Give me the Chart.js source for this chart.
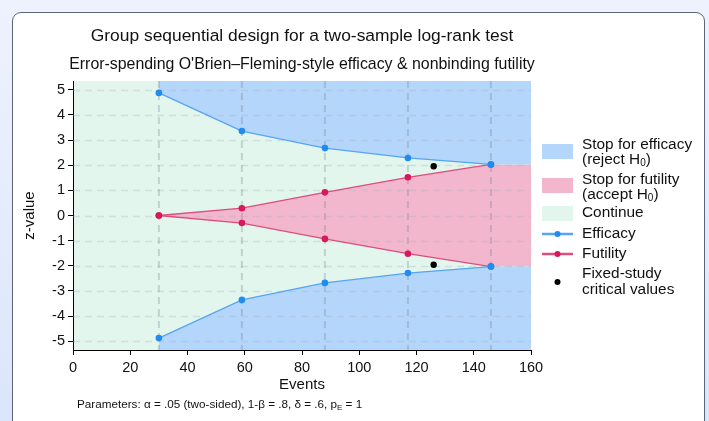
<!DOCTYPE html>
<html>
<head>
<meta charset="utf-8">
<script src="https://cdn.jsdelivr.net/npm/chart.js@4.4.0/dist/chart.umd.min.js"></script>
<style>
  html, body { margin: 0; padding: 0; }
  body {
    width: 709px; height: 421px; overflow: hidden; position: relative;
    background: linear-gradient(180deg, #eef2fd 0%, #dbe5fb 100%);
    font-family: "Liberation Sans", Arial, sans-serif;
  }
  #card {
    position: absolute; left: 12px; top: 12px; width: 691px; height: 440px;
    background: #fff; border: 1.5px solid #5b6478; border-radius: 9px;
  }
  #chart { position: absolute; left: 0; top: 0; }
</style>
</head>
<body>
<div id="card"></div>
<canvas id="chart" width="709" height="421"></canvas>
<script>
document.addEventListener("DOMContentLoaded", function(){
  // analysis looks (events) and boundaries
  const events = [30, 59, 88, 117, 146];
  const efficacyUpper = [4.877, 3.357, 2.680, 2.290, 2.031];
  const efficacyLower = [-4.877, -3.357, -2.680, -2.290, -2.031];
  const futilityUpper = [0.00, 0.29, 0.92, 1.52, 2.031];
  const futilityLower = [0.00, -0.30, -0.93, -1.52, -2.031];
  const fixedEvents = [126, 126];
  const fixedCritical = [1.96, -1.96];
  const xMax = 160;
  const xTicks = [0, 20, 40, 60, 80, 100, 120, 140, 160];
  const yTicks = [-5, -4, -3, -2, -1, 0, 1, 2, 3, 4, 5];

  const blueFill = "#b5d6fb";
  const pinkFill = "#f2b7cc";
  const greenFill = "#e3f6ee";
  const effLine = "#55a4f7";
  const effPoint = "#1f8bf3";
  const futLine = "#df4c7d";
  const futPoint = "#d8185a";
  const font = '"Liberation Sans", Arial, sans-serif';

  function pts(xs, ys) {
    return xs.map((x, i) => ({ x: x, y: ys[i] }));
  }
  // region edges run on to the right end of the axis
  function extend(xs, ys) {
    const p = pts(xs, ys);
    p.push({ x: xMax, y: ys[ys.length - 1] });
    return p;
  }

  const regionStyle = { borderWidth: 0, pointRadius: 0, pointHoverRadius: 0, showLine: true };

  const datasets = [
    Object.assign({ label: "effUpRegion", data: extend(events, efficacyUpper), fill: "end", backgroundColor: blueFill }, regionStyle),
    Object.assign({ label: "effLowRegion", data: extend(events, efficacyLower), fill: "start", backgroundColor: blueFill }, regionStyle),
    Object.assign({ label: "futUpRegion", data: extend(events, futilityUpper), fill: "+1", backgroundColor: pinkFill }, regionStyle),
    Object.assign({ label: "futLowRegion", data: extend(events, futilityLower), fill: false }, regionStyle),
    { label: "Efficacy", data: pts(events, efficacyUpper), borderColor: effLine, borderWidth: 1.3,
      pointBackgroundColor: effPoint, pointBorderWidth: 0, pointRadius: 3.3, showLine: true, fill: false },
    { label: "Efficacy low", data: pts(events, efficacyLower), borderColor: effLine, borderWidth: 1.3,
      pointBackgroundColor: effPoint, pointBorderWidth: 0, pointRadius: 3.3, showLine: true, fill: false },
    { label: "Futility", data: pts(events, futilityUpper), borderColor: futLine, borderWidth: 1.3,
      pointBackgroundColor: futPoint, pointBorderWidth: 0, pointRadius: 3.3, showLine: true, fill: false },
    { label: "Futility low", data: pts(events, futilityLower), borderColor: futLine, borderWidth: 1.3,
      pointBackgroundColor: futPoint, pointBorderWidth: 0, pointRadius: 3.3, showLine: true, fill: false },
    { label: "Fixed-study critical values", data: pts(fixedEvents, fixedCritical), showLine: false,
      pointBackgroundColor: "#000", pointBorderWidth: 0, pointRadius: 3.2, fill: false }
  ];

  const decor = {
    id: "decor",
    beforeDraw(chart) {
      const { ctx, chartArea: a } = chart;
      ctx.save();
      ctx.fillStyle = greenFill;
      ctx.fillRect(a.left, a.top, a.right - a.left, a.bottom - a.top);
      ctx.restore();
    },
    beforeDatasetsDraw(chart) {
      const { ctx, chartArea: a, scales } = chart;
      ctx.save();
      ctx.beginPath();
      ctx.rect(a.left, a.top, a.right - a.left, a.bottom - a.top);
      ctx.clip();
      // horizontal dashed grid
      ctx.setLineDash([7, 5]);
      ctx.lineWidth = 1.5;
      ctx.strokeStyle = "rgba(170,180,190,0.35)";
      yTicks.forEach(v => {
        const y = Math.round(scales.y.getPixelForValue(v)) + 0.5;
        ctx.beginPath(); ctx.moveTo(a.left, y); ctx.lineTo(a.right, y); ctx.stroke();
      });
      // analysis looks
      ctx.lineWidth = 2;
      ctx.strokeStyle = "rgba(110,130,140,0.3)";
      events.forEach(e => {
        const x = scales.x.getPixelForValue(e);
        ctx.beginPath(); ctx.moveTo(x, a.top); ctx.lineTo(x, a.bottom); ctx.stroke();
      });
      ctx.restore();
    },
    afterDraw(chart) {
      const { ctx, chartArea: a } = chart;
      const cx = (a.left + a.right) / 2;
      ctx.save();
      ctx.fillStyle = "#111";
      ctx.textAlign = "center";
      ctx.textBaseline = "middle";
      ctx.font = "17.4px " + font;
      ctx.fillText("Group sequential design for a two-sample log-rank test", cx, 36);
      ctx.font = "15.9px " + font;
      ctx.fillText("Error-spending O'Brien\u2013Fleming-style efficacy & nonbinding futility", cx, 65);

      // footnote with subscript
      ctx.textAlign = "left";
      ctx.font = "11.7px " + font;
      let fx = 77;
      const fy = 405;
      const part1 = "Parameters: \u03b1 = .05 (two-sided), 1-\u03b2 = .8, \u03b4 = .6, p";
      ctx.fillText(part1, fx, fy);
      fx += ctx.measureText(part1).width;
      ctx.font = "8px " + font;
      ctx.fillText("E", fx, fy + 3);
      fx += ctx.measureText("E").width;
      ctx.font = "11.7px " + font;
      ctx.fillText(" = 1", fx, fy);

      // legend
      const lx = 542, sw = 31, tx = 582;
      const lf = "15.4px " + font;
      ctx.font = lf;
      function swatch(color, y) {
        ctx.fillStyle = color;
        ctx.fillRect(lx, y, sw, 15);
      }
      function text(str, y) {
        ctx.fillStyle = "#111";
        ctx.font = lf;
        ctx.fillText(str, tx, y);
      }
      function textH0(prefix, y) {
        ctx.fillStyle = "#111";
        ctx.font = lf;
        ctx.fillText(prefix + "H", tx, y);
        let w = ctx.measureText(prefix + "H").width;
        ctx.font = "10px " + font;
        ctx.fillText("0", tx + w, y + 3);
        w += ctx.measureText("0").width;
        ctx.font = lf;
        ctx.fillText(")", tx + w, y);
      }
      function lineKey(lc, pc, y) {
        ctx.strokeStyle = lc; ctx.lineWidth = 2.5; ctx.setLineDash([]);
        ctx.beginPath(); ctx.moveTo(lx, y); ctx.lineTo(lx + sw, y); ctx.stroke();
        ctx.fillStyle = pc;
        ctx.beginPath(); ctx.arc(lx + sw / 2, y, 3, 0, Math.PI * 2); ctx.fill();
      }
      swatch(blueFill, 144);
      text("Stop for efficacy", 145);
      textH0("(reject ", 160);
      swatch(pinkFill, 178);
      text("Stop for futility", 180);
      textH0("(accept ", 195);
      swatch(greenFill, 206);
      text("Continue", 213);
      lineKey(effLine, effPoint, 234);
      text("Efficacy", 234);
      lineKey(futLine, futPoint, 254);
      text("Futility", 254);
      ctx.fillStyle = "#000";
      ctx.beginPath(); ctx.arc(lx + sw / 2, 282, 3, 0, Math.PI * 2); ctx.fill();
      text("Fixed-study", 274);
      text("critical values", 290);
      ctx.restore();
    }
  };

  new Chart(document.getElementById("chart"), {
    type: "scatter",
    data: { datasets: datasets },
    options: {
      responsive: false,
      animation: false,
      events: [],
      layout: { padding: { left: 17, right: 178, top: 81, bottom: 27 } },
      plugins: {
        legend: { display: false },
        tooltip: { enabled: false },
        filler: { drawTime: "beforeDatasetsDraw" }
      },
      scales: {
        x: {
          type: "linear", min: 0, max: xMax,
          afterBuildTicks: s => { s.ticks = xTicks.map(v => ({ value: v })); },
          afterFit: s => { s.height = 44; },
          grid: { drawOnChartArea: false, drawTicks: true, tickLength: 5, color: "#000" },
          border: { display: true, color: "#000", width: 1 },
          ticks: { color: "#111", font: { family: font, size: 14.5 }, padding: 4 },
          title: { display: true, text: "Events", color: "#111", font: { family: font, size: 15 }, padding: { top: 3, bottom: 0 } }
        },
        y: {
          type: "linear", min: -5.35, max: 5.35,
          afterBuildTicks: s => { s.ticks = yTicks.map(v => ({ value: v })); },
          afterFit: s => { s.width = 56; },
          grid: { drawOnChartArea: false, drawTicks: true, tickLength: 5, color: "#000" },
          border: { display: true, color: "#000", width: 1 },
          ticks: { color: "#111", font: { family: font, size: 14.5 }, padding: 3 },
          title: { display: true, text: "z-value", color: "#111", font: { family: font, size: 15 }, padding: { top: 4, bottom: 0 } }
        }
      }
    },
    plugins: [decor]
  });
});
</script>
</body>
</html>
